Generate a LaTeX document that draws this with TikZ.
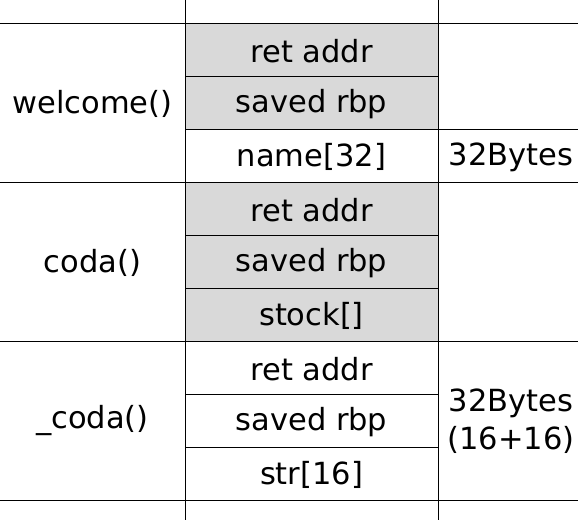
\documentclass[tikz,border=0pt]{standalone}
\usepackage{fontspec}
\setmainfont{DejaVu Sans}
\begin{document}
\begin{tikzpicture}[x=1pt,y=-1pt,
  cell/.style={font=\fontsize{30.5}{38}\selectfont, inner sep=0pt, align=center},
  grid/.style={draw=black, line width=1pt},
  shade/.style={fill=black!15}]
\useasboundingbox (0,0) rectangle (578,520);
% grey cells
\fill[shade] (185,23) rectangle (438,129);
\fill[shade] (185,182) rectangle (438,341);
% horizontal lines full width
\foreach \y in {23,182,341,500} \draw[grid] (0,\y) -- (578,\y);
% middle-column lines
\foreach \y in {76,129,235,288,394,447} \draw[grid] (185,\y) -- (438,\y);
% right column line
\draw[grid] (438,129) -- (578,129);
% verticals
\draw[grid] (185,0) -- (185,520);
\draw[grid] (438,0) -- (438,520);
% texts
\node[cell] (w) at (92.5,104) {welcome()};
\node[cell] (c) at (92.5,263) {coda()};
\node[cell] (uc) at (92.5,421) {\_coda()};
\node[cell] (r1) at (311.5,51) {ret addr};
\node[cell] (s1) at (311.5,104) {saved rbp};
\node[cell] (n1) at (311.5,157) {name[32]};
\node[cell] (r2) at (311.5,210) {ret addr};
\node[cell] (s2) at (311.5,263) {saved rbp};
\node[cell] (k2) at (311.5,316) {stock[]};
\node[cell] (r3) at (311.5,369) {ret addr};
\node[cell] (s3) at (311.5,422) {saved rbp};
\node[cell] (t3) at (311.5,475) {str[16]};
\node[cell] (b1) at (511,157) {32Bytes};
\node[cell] (b2) at (511,421) {32Bytes\\(16+16)};
\end{tikzpicture}
\end{document}
